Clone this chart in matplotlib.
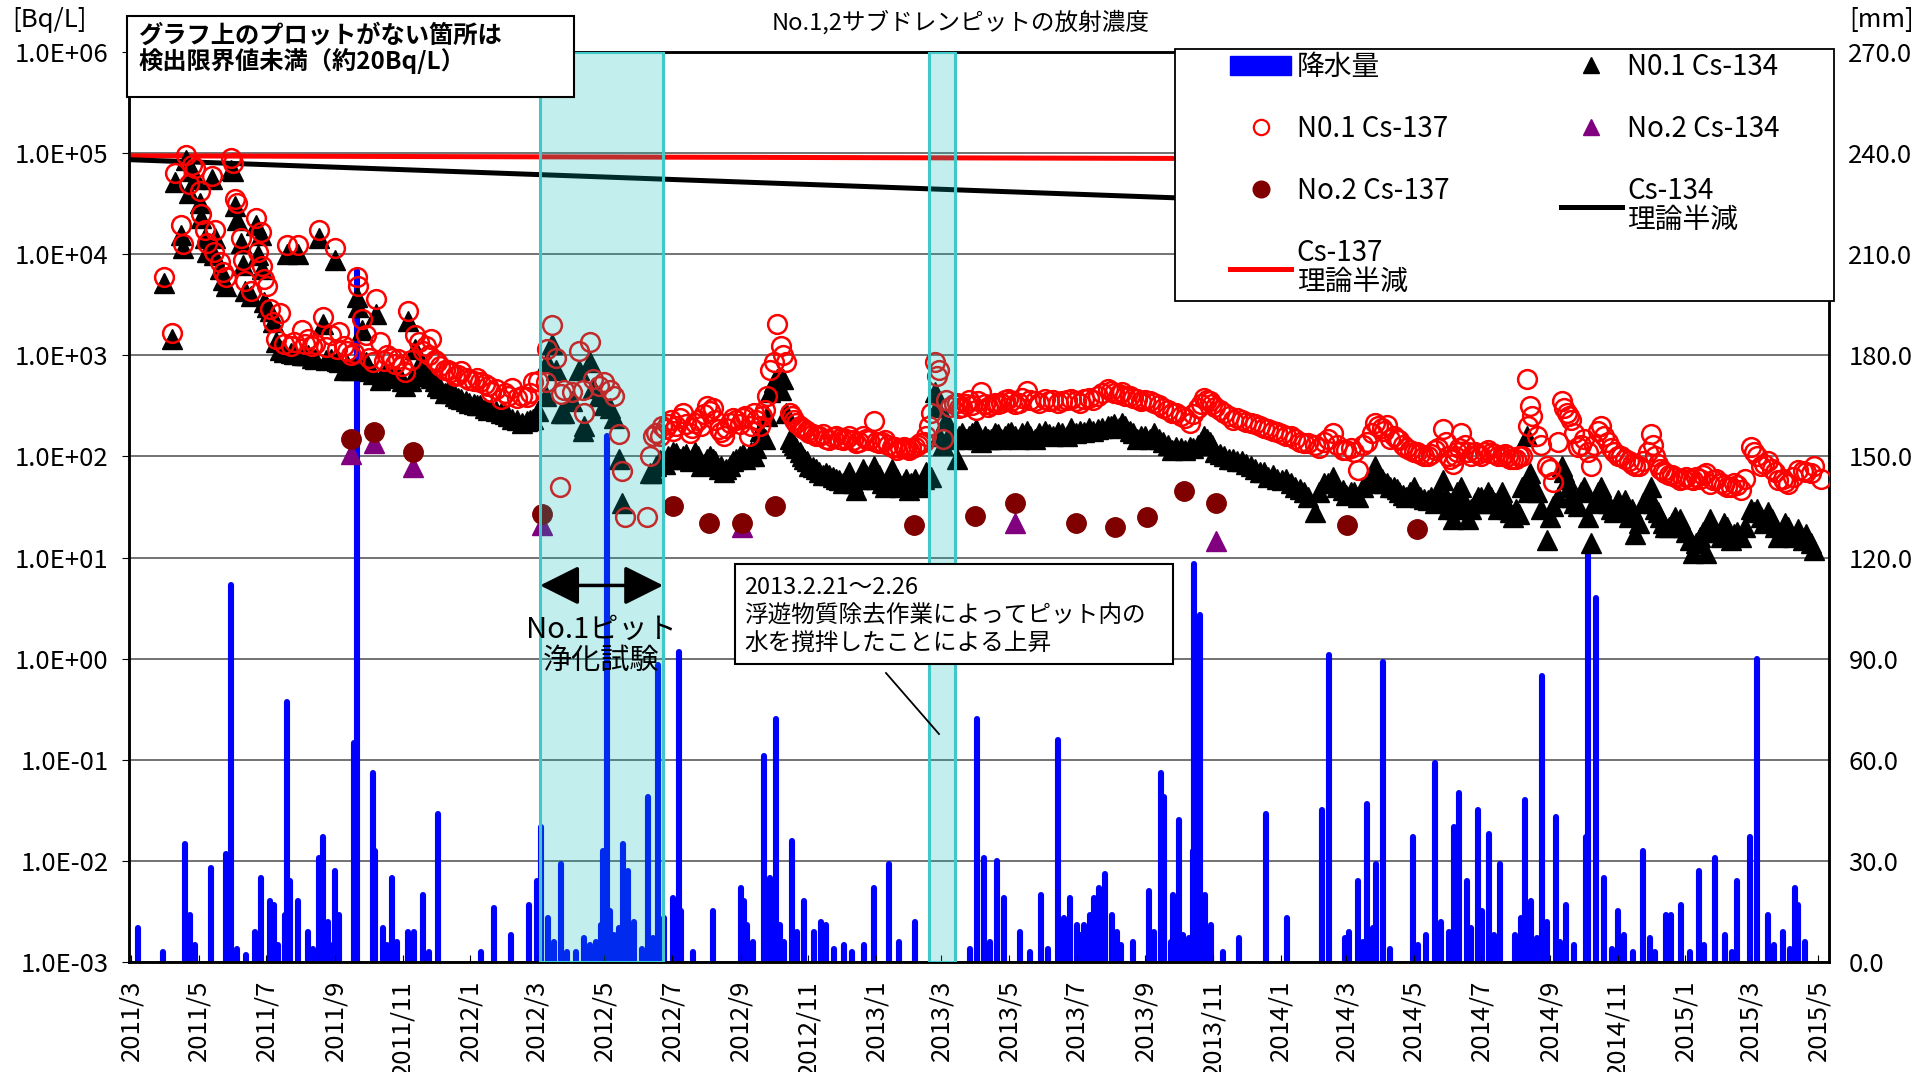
import numpy as np
import pandas as pd
import matplotlib
matplotlib.use('Agg')
import matplotlib.pyplot as plt
import matplotlib.dates as mdates
from matplotlib.patches import Patch, Rectangle
from matplotlib.lines import Line2D
from matplotlib.ticker import FixedLocator, FuncFormatter, NullLocator

plt.rcParams['font.family'] = ['Noto Sans CJK JP', 'DejaVu Sans']

nan = np.nan

# ---- No.1 pit (Cs-134 / Cs-137, Bq/L) ----
n1_date = [
    '2011-03-31', '2011-04-07', '2011-04-10', '2011-04-15', '2011-04-17', '2011-04-20', '2011-04-22', '2011-04-25', '2011-04-28', '2011-05-02',
    '2011-05-03', '2011-05-07', '2011-05-09', '2011-05-13', '2011-05-15', '2011-05-16', '2011-05-20', '2011-05-23', '2011-05-26', '2011-05-30',
    '2011-06-01', '2011-06-03', '2011-06-05', '2011-06-08', '2011-06-10', '2011-06-12', '2011-06-17', '2011-06-22', '2011-06-24', '2011-06-26',
    '2011-06-27', '2011-06-29', '2011-07-02', '2011-07-04', '2011-07-07', '2011-07-10', '2011-07-13', '2011-07-17', '2011-07-20', '2011-07-23',
    '2011-07-26', '2011-07-30', '2011-08-02', '2011-08-05', '2011-08-08', '2011-08-11', '2011-08-14', '2011-08-18', '2011-08-21', '2011-08-24',
    '2011-08-28', '2011-09-01', '2011-09-03', '2011-09-05', '2011-09-09', '2011-09-12', '2011-09-15', '2011-09-18', '2011-09-21', '2011-09-22',
    '2011-09-25', '2011-09-29', '2011-10-02', '2011-10-05', '2011-10-08', '2011-10-12', '2011-10-15', '2011-10-18', '2011-10-22', '2011-10-25',
    '2011-10-28', '2011-10-31', '2011-11-03', '2011-11-06', '2011-11-09', '2011-11-12', '2011-11-16', '2011-11-19', '2011-11-22', '2011-11-25',
    '2011-11-27', '2011-11-30', '2011-12-02', '2011-12-05', '2011-12-09', '2011-12-12', '2011-12-15', '2011-12-18', '2011-12-21', '2011-12-24',
    '2011-12-28', '2011-12-31', '2012-01-04', '2012-01-07', '2012-01-10', '2012-01-14', '2012-01-17', '2012-01-20', '2012-01-24', '2012-01-29',
    '2012-02-01', '2012-02-04', '2012-02-08', '2012-02-12', '2012-02-17', '2012-02-21', '2012-02-24', '2012-02-27', '2012-03-02', '2012-03-09',
    '2012-03-10', '2012-03-15', '2012-03-18', '2012-03-22', '2012-03-23', '2012-03-26', '2012-04-02', '2012-04-08', '2012-04-12', '2012-04-13',
    '2012-04-18', '2012-04-21', '2012-04-26', '2012-05-01', '2012-05-06', '2012-05-10', '2012-05-14', '2012-05-17', '2012-05-20', '2012-06-08',
    '2012-06-11', '2012-06-14', '2012-06-20', '2012-06-25', '2012-06-30', '2012-07-05', '2012-07-11', '2012-07-17', '2012-07-22', '2012-07-27',
    '2012-08-02', '2012-08-07', '2012-08-12', '2012-08-17', '2012-08-22', '2012-08-28', '2012-09-03', '2012-09-08', '2012-09-13', '2012-09-18',
    '2012-09-23', '2012-09-27', '2012-10-01', '2012-10-04', '2012-10-07', '2012-10-09', '2012-10-12', '2012-10-15', '2012-10-19', '2012-10-24',
    '2012-10-28', '2012-11-02', '2012-11-08', '2012-11-14', '2012-11-20', '2012-11-26', '2012-12-02', '2012-12-08', '2012-12-14', '2012-12-20',
    '2012-12-26', '2012-12-30', '2013-01-04', '2013-01-09', '2013-01-15', '2013-01-20', '2013-01-26', '2013-01-31', '2013-02-05', '2013-02-10',
    '2013-02-15', '2013-02-20', '2013-02-23', '2013-02-25', '2013-02-27', '2013-03-02', '2013-03-05', '2013-03-09', '2013-03-15', '2013-03-20',
    '2013-03-26', '2013-04-01', '2013-04-06', '2013-04-12', '2013-04-18', '2013-04-24', '2013-04-30', '2013-05-06', '2013-05-17', '2013-05-24',
    '2013-06-02', '2013-06-10', '2013-06-18', '2013-06-26', '2013-07-04', '2013-07-12', '2013-07-20', '2013-07-29', '2013-08-04', '2013-08-11',
    '2013-08-18', '2013-08-24', '2013-09-01', '2013-09-09', '2013-09-17', '2013-09-25', '2013-10-03', '2013-10-11', '2013-10-18', '2013-10-24',
    '2013-10-29', '2013-11-03', '2013-11-11', '2013-11-19', '2013-11-27', '2013-12-05', '2013-12-13', '2013-12-21', '2013-12-29', '2014-01-06',
    '2014-01-14', '2014-01-22', '2014-02-01', '2014-02-09', '2014-02-17', '2014-02-26', '2014-03-05', '2014-03-12', '2014-03-20', '2014-03-27',
    '2014-04-02', '2014-04-07', '2014-04-13', '2014-04-18', '2014-04-24', '2014-05-01', '2014-05-07', '2014-05-14', '2014-05-20', '2014-05-27',
    '2014-06-01', '2014-06-05', '2014-06-09', '2014-06-13', '2014-06-19', '2014-06-25', '2014-07-01', '2014-07-07', '2014-07-13', '2014-07-20',
    '2014-07-25', '2014-07-30', '2014-08-04', '2014-08-11', '2014-08-12', '2014-08-14', '2014-08-20', '2014-08-29', '2014-09-04', '2014-09-12',
    '2014-09-16', '2014-09-20', '2014-09-26', '2014-10-02', '2014-10-08', '2014-10-17', '2014-10-20', '2014-10-26', '2014-11-01', '2014-11-08',
    '2014-11-17', '2014-11-24', '2014-12-01', '2014-12-05', '2014-12-09', '2014-12-14', '2014-12-20', '2014-12-27', '2015-01-02', '2015-01-08',
    '2015-01-14', '2015-01-20', '2015-01-23', '2015-01-29', '2015-02-08', '2015-02-14', '2015-02-20', '2015-03-01', '2015-03-04', '2015-03-10',
    '2015-03-17', '2015-03-26', '2015-04-04', '2015-04-13', '2015-04-20', '2015-04-27', '2015-05-03',
    # in-between samples
    '2012-06-17', '2012-06-22', '2012-06-27', '2012-07-02', '2012-07-08', '2012-07-14', '2012-07-19', '2012-07-24', '2012-07-30', '2012-08-04',
    '2012-08-09', '2012-08-14', '2012-08-19', '2012-08-25', '2012-08-31', '2012-09-05', '2012-09-10', '2012-09-15', '2012-09-20', '2012-09-25',
    '2012-10-17', '2012-10-21', '2012-10-26', '2012-10-31', '2012-11-05', '2012-11-11', '2012-11-17', '2012-11-23', '2012-11-29', '2012-12-05',
    '2012-12-11', '2012-12-17', '2012-12-23', '2013-01-01', '2013-01-06', '2013-01-12', '2013-01-18', '2013-01-23', '2013-01-28', '2013-02-02',
    '2013-02-08', '2013-02-13', '2013-02-18', '2013-03-12', '2013-03-17', '2013-03-23', '2013-03-29', '2013-04-03', '2013-04-09', '2013-04-15',
    '2013-04-21', '2013-04-27', '2013-05-03', '2013-05-10', '2013-05-13', '2013-05-20', '2013-05-28', '2013-06-06', '2013-06-14', '2013-06-22',
    '2013-06-30', '2013-07-08', '2013-07-16', '2013-07-24', '2013-08-01', '2013-08-08', '2013-08-14', '2013-08-21', '2013-08-28', '2013-09-05',
    '2013-09-13', '2013-09-21', '2013-09-29', '2013-10-07', '2013-10-14', '2013-10-21', '2013-10-27', '2013-10-31', '2013-11-07', '2013-11-15',
    '2013-11-23', '2013-12-01', '2013-12-09', '2013-12-17', '2013-12-25', '2014-01-02', '2014-01-10', '2014-01-18', '2014-01-26', '2014-02-05',
    '2014-02-13', '2014-02-21', '2014-03-01', '2014-03-08', '2014-03-16', '2014-03-24', '2014-03-30', '2014-04-04', '2014-04-10', '2014-04-16',
    '2014-04-21', '2014-04-28', '2014-05-04', '2014-05-10', '2014-05-17', '2014-05-23', '2014-05-30', '2014-06-03', '2014-06-07', '2014-06-11',
    '2014-06-16', '2014-06-22', '2014-06-28', '2014-07-04', '2014-07-10', '2014-07-16', '2014-07-22', '2014-07-27', '2014-08-01', '2014-08-07',
    '2014-08-16', '2014-08-24', '2014-09-01', '2014-09-08', '2014-09-14', '2014-09-18', '2014-09-23', '2014-09-29', '2014-10-05', '2014-10-11',
    '2014-10-14', '2014-10-23', '2014-10-29', '2014-11-04', '2014-11-11', '2014-11-14', '2014-11-20', '2014-11-28', '2014-12-03', '2014-12-07',
    '2014-12-12', '2014-12-17', '2014-12-23', '2014-12-30', '2015-01-05', '2015-01-11', '2015-01-17', '2015-01-26', '2015-02-02', '2015-02-05',
    '2015-02-11', '2015-02-17', '2015-02-24', '2015-03-07', '2015-03-13', '2015-03-20', '2015-03-23', '2015-03-30', '2015-04-01', '2015-04-08',
    '2015-04-17', '2015-04-24',
]
n1_cs134 = [
    5200, 1450, 52000, 15500, 11500, 85000, 40000, 66000, 56000, 32000,
    23000, 14500, 10500, 56000, 9800, 14500, 7200, 5500, 4900, 68000,
    66000, 30000, 22000, 13000, 7800, 4300, 3900, 19500, 9800, 15500,
    7200, 3400, 3000, 2750, 2150, 1350, 1120, 1070, 10000, 1050,
    1030, 10000, 1000, 1000, 1000, 950, 930, 14500, 2050, 900,
    910, 8700, 880, 850, 720, 800, 720, 760, 3800, 3000,
    1800, 850, 700, 650, 2570, 575, 640, 630, 620, 600,
    630, 560, 500, 2200, 560, 1150, 800, 700, 630, 640,
    600, 560, 500, 480, 420, 440, 420, 400, 380, 370,
    350, 340, 330, 320, 320, 300, 290, 295, 280, 270,
    260, 250, 235, 230, 215, 225, 230, 235, 280, 400,
    850, 1300, 720, nan, 270, 270, 350, 720, 180, 200,
    850, 480, 400, 320, 300, 240, 95, 35, nan, nan,
    68, 69, 93, 85, 95, 107, 100, 90, 110, 80,
    95, 95, 75, 70, 80, 95, 105, 100, 100, 180,
    150, 430, 540, 580, 450, 580, 270, 150, 130, 110,
    95, 80, 75, 65, 65, 60, 55, 70, 47, 75,
    60, 80, 65, 50, 75, 60, 55, 47, 60, 50,
    70, 63, 430, 310, 160, 130, 230, 170, 95, 170,
    160, 185, 140, 150, 170, 150, 170, 160, 180, 150,
    180, 160, 170, 190, 180, 190, 185, 200, 210, 215,
    180, 150, 160, 170, 140, 115, 120, 125, 130, 160,
    140, 110, 100, 95, 90, 80, 70, 63, 60, 60,
    50, 45, 28, 55, 63, 47, 45, 40, 55, 80,
    60, 55, 50, 45, 40, 50, 40, 37, 35, 58,
    30, 24, 45, 50, 24, 35, 40, 45, 35, 45,
    30, 25, 27, 160, 44, 68, 44, 15, 32, 80,
    60, 40, 32, 50, 14, 50, 40, 30, 37, 37,
    17, 35, 50, 30, 25, 20, 22, 24, 18, 11,
    16, 11, 24, 18, 20, 17, 16, 30, 28, 25,
    28, 16, 20, 19, 17, 12, nan,
    80, 90, 100, 110, 95, 105, 95, 100, 85, 100,
    90, 80, 75, 90, 100, 95, 110, 120, 160, 250,
    140, 120, 100, 90, 78, 70, 68, 62, 58, 60,
    55, 60, 65, 60, 55, 60, 55, 50, 60, 55,
    52, 60, 65, 150, 160, 150, 170, 150, 160, 150,
    165, 160, 175, 150, 170, 160, 170, 165, 175, 160,
    170, 175, 180, 190, 200, 190, 200, 170, 160, 150,
    150, 130, 125, 115, 120, 140, 150, 130, 105, 95,
    90, 85, 75, 70, 65, 58, 55, 48, 40, 45,
    55, 50, 42, 45, 50, 60, 65, 55, 50, 48,
    42, 45, 42, 38, 40, 45, 40, 35, 30, 40,
    35, 30, 40, 35, 40, 30, 35, 28, 30, 50,
    55, 30, 25, 40, 70, 50, 35, 45, 25, 35,
    45, 35, 28, 30, 25, 30, 22, 40, 35, 28,
    22, 20, 25, 20, 15, 14, 18, 20, 16, 22,
    15, 18, 20, 30, 22, 24, 20, 18, 22, 16,
    15, 14,
]
n1_cs137 = [
    6000, 1650, 63000, 19500, 12500, 96000, 50000, 76000, 71000, 42000,
    25000, 17500, 13000, 59000, 10500, 17400, 8300, 6600, 5900, 89000,
    80000, 35000, 32000, 14500, 8700, 5400, 4300, 23000, 10500, 16500,
    7600, 5700, 4900, 2900, 2150, 1450, 2600, 1300, 12300, 1250,
    1350, 12300, 1800, 1300, 1450, 1250, 1300, 17400, 2400, 1200,
    1600, 11500, 1150, 1700, 1250, 1100, 1000, 1050, 5900, 4900,
    2300, 1600, 950, 850, 3600, 1350, 880, 1000, 950, 820,
    910, 780, 680, 2750, 900, 1600, 1350, 1100, 1250, 1000,
    1450, 900, 850, 780, 720, 720, 680, 630, 640, 700,
    600, 575, 560, 600, 540, 520, 500, 430, 460, 370,
    420, 400, 470, 380, 400, 390, 420, 540, 560, 540,
    1150, 2000, 950, 50, 410, 450, 430, 1100, 450, 270,
    1350, 580, 500, 540, 450, 400, 165, 71, 25, 25,
    100, 160, 160, 185, 230, 200, 270, 170, 215, 200,
    315, 300, 185, 160, 215, 230, 240, 160, 270, 200,
    290, 720, 850, 2050, 1230, 1000, 850, 270, 230, 200,
    185, 170, 160, 165, 145, 160, 145, 160, 135, 160,
    145, 225, 135, 145, 125, 117, 125, 117, 125, 135,
    160, 270, 850, 620, 720, 150, 360, 310, 340, 310,
    360, 290, 430, 310, 340, 340, 370, 330, 445, 350,
    370, 360, 350, 370, 340, 380, 400, 460, 420, 430,
    400, 370, 360, 340, 300, 270, 250, 215, 300, 380,
    350, 310, 270, 230, 230, 215, 200, 185, 175, 160,
    150, 135, 130, 140, 170, 115, 120, 74, 140, 215,
    190, 205, 160, 145, 120, 110, 105, 100, 115, 185,
    100, 85, 110, 170, 110, 110, 100, 115, 105, 100,
    100, 95, 100, 590, 200, 315, 160, 80, 56, 355,
    270, 230, 125, 150, 80, 200, 160, 120, 100, 95,
    80, 90, 165, 100, 75, 68, 65, 58, 62, 58,
    60, 68, 54, 60, 50, 55, 47, 125, 110, 80,
    90, 58, 54, 74, 70, 80, 60,
    170, 200, 210, 180, 240, 210, 190, 230, 260, 280,
    230, 175, 190, 240, 210, 250, 200, 230, 250, 400,
    250, 215, 190, 180, 165, 160, 150, 155, 150, 150,
    145, 140, 150, 140, 140, 130, 125, 120, 120, 120,
    130, 140, 200, 330, 300, 330, 320, 350, 330, 320,
    330, 360, 350, 340, 380, 360, 340, 350, 340, 360,
    350, 370, 360, 420, 440, 410, 400, 380, 350, 350,
    320, 290, 270, 240, 260, 330, 360, 330, 290, 250,
    240, 220, 210, 190, 180, 165, 160, 140, 135, 120,
    150, 130, 115, 110, 130, 170, 200, 180, 150, 150,
    130, 115, 110, 100, 105, 120, 140, 95, 100, 120,
    130, 100, 105, 110, 108, 100, 105, 95, 95, 100,
    250, 130, 75, 140, 300, 250, 170, 130, 110, 130,
    180, 140, 110, 100, 90, 85, 80, 110, 130, 85,
    72, 66, 62, 60, 60, 62, 65, 58, 55, 52,
    50, 52, 60, 100, 85, 75, 70, 60, 56, 62,
    72, 68,
]

# ---- No.2 pit ----
n2_cs137_date = ['2011-09-15', '2011-10-06', '2011-11-10', '2012-03-06', '2012-07-02', '2012-08-03',
                 '2012-09-02', '2012-10-02', '2013-02-04', '2013-03-31', '2013-05-06', '2013-06-30',
                 '2013-08-05', '2013-09-02', '2013-10-06', '2013-11-04', '2014-03-02', '2014-05-04']
n2_cs137 = [150, 175, 110, 27, 32, 22, 22, 32, 21, 26, 35, 22, 20, 25, 46, 35, 21, 19]
n2_cs134_date = ['2011-09-15', '2011-10-06', '2011-11-10', '2012-03-06', '2012-09-02', '2013-05-06', '2013-11-04']
n2_cs134 = [105, 137, 78, 21, 20, 22, 14.5]

# ---- theoretical decay (straight lines on log axis) ----
half_date = ['2011-03-01', '2015-05-10']
cs134_half = [86000, 21000]
cs137_half = [94000, 85400]

# ---- rainfall (mm/day) ----
rain_date = [
    '2011-03-07', '2011-03-30', '2011-04-19', '2011-04-23', '2011-04-28', '2011-05-12', '2011-05-26', '2011-05-30', '2011-06-13', '2011-06-21',
    '2011-06-26', '2011-07-04', '2011-07-08', '2011-07-18', '2011-07-20', '2011-07-22', '2011-07-30', '2011-08-08', '2011-08-18', '2011-08-21',
    '2011-08-26', '2011-09-01', '2011-09-05', '2011-09-18', '2011-09-21', '2011-10-05', '2011-10-07', '2011-10-14', '2011-10-22', '2011-11-06',
    '2011-11-11', '2011-11-19', '2011-12-03', '2012-01-11', '2012-01-22', '2012-02-07', '2012-02-23', '2012-03-01', '2012-03-05', '2012-03-11',
    '2012-03-17', '2012-03-23', '2012-04-13', '2012-04-23', '2012-04-28', '2012-04-30', '2012-05-03', '2012-05-06', '2012-05-18', '2012-05-22',
    '2012-05-28', '2012-06-09', '2012-06-14', '2012-06-18', '2012-06-24', '2012-07-02', '2012-07-07', '2012-07-09', '2012-08-07', '2012-09-01',
    '2012-09-04', '2012-09-07', '2012-09-22', '2012-09-27', '2012-10-03', '2012-10-06', '2012-10-17', '2012-10-22', '2012-10-28', '2012-11-06',
    '2012-11-12', '2012-11-17', '2012-12-03', '2012-12-21', '2012-12-30', '2013-01-13', '2013-01-22', '2013-02-05', '2013-03-27', '2013-04-02',
    '2013-04-08', '2013-04-20', '2013-04-26', '2013-05-11', '2013-05-30', '2013-06-14', '2013-06-20', '2013-06-25', '2013-07-01', '2013-07-08',
    '2013-07-13', '2013-07-17', '2013-07-21', '2013-07-27', '2013-08-02', '2013-08-06', '2013-08-21', '2013-09-04', '2013-09-09', '2013-09-15',
    '2013-09-18', '2013-09-26', '2013-10-01', '2013-10-05', '2013-10-14', '2013-10-15', '2013-10-20', '2013-10-25', '2013-10-30', '2013-11-24',
    '2013-12-19', '2014-01-07', '2014-02-07', '2014-02-14', '2014-02-28', '2014-03-04', '2014-03-12', '2014-03-20', '2014-03-25', '2014-03-28',
    '2014-04-03', '2014-04-30', '2014-05-12', '2014-05-20', '2014-05-26', '2014-06-06', '2014-06-11', '2014-06-18', '2014-06-28', '2014-07-02',
    '2014-07-08', '2014-07-18', '2014-07-31', '2014-08-06', '2014-08-09', '2014-08-15', '2014-08-25', '2014-08-29', '2014-09-06', '2014-09-15',
    '2014-09-23', '2014-10-03', '2014-10-05', '2014-10-12', '2014-10-20', '2014-11-01', '2014-11-07', '2014-11-24', '2014-11-30', '2014-12-15',
    '2014-12-19', '2014-12-28', '2015-01-13', '2015-01-18', '2015-01-28', '2015-02-06', '2015-02-17', '2015-02-28', '2015-03-07', '2015-03-17',
    '2015-03-30', '2015-04-10', '2015-04-13', '2015-04-19',
    '2011-06-05', '2011-07-12', '2011-08-12', '2011-08-30', '2011-10-18', '2011-10-27', '2011-11-25', '2012-03-28', '2012-04-05', '2012-04-18',
    '2012-05-10', '2012-05-14', '2012-05-25', '2012-06-04', '2012-06-20', '2012-07-20', '2012-09-12', '2012-10-10', '2012-11-24', '2012-12-10',
    '2013-04-14', '2013-05-20', '2013-06-05', '2013-07-05', '2013-07-25', '2013-08-10', '2013-09-24', '2013-10-10', '2013-11-10', '2014-03-16',
    '2014-04-10', '2014-05-05', '2014-06-02', '2014-06-22', '2014-07-12', '2014-08-02', '2014-08-20', '2014-09-10', '2014-10-27', '2014-11-15',
    '2014-12-05', '2015-01-05', '2015-02-12', '2015-03-22', '2015-04-05',
]
rain_mm = [
    10, 3, 35, 14, 5, 28, 32, 112, 2, 9,
    25, 18, 17, 14, 77, 24, 18, 9, 31, 37,
    12, 27, 14, 65, 205, 56, 33, 10, 25, 9,
    9, 20, 44, 3, 16, 8, 17, 24, 40, 13,
    6, 29, 7, 6, 11, 33, 156, 15, 35, 27,
    12, 49, 7, 88, 13, 19, 92, 15, 15, 22,
    18, 11, 61, 25, 72, 11, 36, 9, 18, 9,
    12, 11, 5, 5, 22, 29, 6, 12, 4, 72,
    31, 30, 19, 9, 20, 66, 13, 19, 11, 11,
    14, 19, 22, 26, 14, 9, 6, 21, 9, 56,
    49, 20, 42, 8, 33, 118, 103, 20, 11, 7,
    44, 13, 45, 91, 7, 9, 24, 47, 10, 29,
    89, 37, 8, 59, 12, 40, 50, 24, 45, 15,
    38, 29, 8, 13, 48, 18, 85, 12, 43, 17,
    5, 37, 123, 108, 25, 15, 8, 33, 7, 14,
    14, 17, 27, 5, 31, 8, 24, 37, 90, 14,
    9, 22, 17, 6,
    4, 5, 4, 5, 5, 6, 3, 3, 3, 5,
    8, 10, 6, 4, 4, 3, 6, 6, 4, 3,
    6, 3, 4, 8, 9, 5, 6, 7, 3, 6,
    4, 5, 9, 10, 8, 6, 7, 6, 4, 3,
    3, 3, 3, 5, 4,
]

# shaded periods
span_start = ['2012-03-04', '2013-02-18']
span_end = ['2012-06-23', '2013-03-13']

W, H = 1933, 1072


def fx(px):
    return px / W


def fy(py):
    return 1 - py / H


def dnum(d):
    return mdates.date2num(pd.to_datetime(d))


fig = plt.figure(figsize=(W / 100, H / 100), dpi=100)
ax = fig.add_axes([fx(129.5), fy(962), fx(1829) - fx(129.5), fy(52) - fy(962)])
ax2 = ax.twinx()
ax.set_zorder(2)
ax2.set_zorder(1)
ax.patch.set_visible(False)
ax2.patch.set_facecolor('white')

# rainfall bars on the right axis
ax2.vlines(dnum(rain_date), 0, rain_mm, colors='#0000ff', linewidth=4.4, capstyle='round', zorder=2)
ax2.set_ylim(0, 270)
ax2.yaxis.set_major_locator(FixedLocator(np.arange(0, 271, 30)))
ax2.yaxis.set_major_formatter(FuncFormatter(lambda v, p: f'{v:.1f}'))
ax2.yaxis.grid(True, color='#5a5a5a', linewidth=1.2, zorder=1)
ax2.set_axisbelow(True)
ax2.tick_params(axis='y', length=0, pad=14, labelsize=18.5)

# concentrations on the left (log) axis
ax.plot(dnum(half_date), cs137_half, color='#ff0000', lw=3.6, zorder=2)
ax.plot(dnum(half_date), cs134_half, color='black', lw=3.6, zorder=2)
ax.plot(dnum(n1_date), n1_cs134, ls='none', marker='^', color='black', ms=14, zorder=3)
ax.plot(dnum(n2_cs134_date), n2_cs134, ls='none', marker='^', color='#800080', ms=14, zorder=3)
ax.plot(dnum(n1_date), n1_cs137, ls='none', marker='o', mfc='none', mec='#ff0000', mew=1.8, ms=13.5, zorder=3.1)
ax.plot(dnum(n2_cs137_date), n2_cs137, ls='none', marker='o', color='#800000', ms=14, zorder=3.1)

ax.set_yscale('log')
ax.set_ylim(1e-3, 1e6)
ax.yaxis.set_major_locator(FixedLocator(10.0 ** np.arange(-3, 7)))
ax.yaxis.set_minor_locator(NullLocator())
ax.yaxis.set_major_formatter(FuncFormatter(lambda v, p: f'{v:.1E}'))
ax.tick_params(axis='y', direction='out', length=5, pad=10, labelsize=18.5)

x0 = dnum('2011-03-01')
ax.set_xlim(x0 - 1.35, x0 + 1531.6)
ax.xaxis.set_major_locator(mdates.MonthLocator(bymonth=(1, 3, 5, 7, 9, 11)))
ax.xaxis.set_major_formatter(FuncFormatter(
    lambda v, p: f'{mdates.num2date(v).year}/{mdates.num2date(v).month}'))
ax.tick_params(axis='x', direction='in', length=5, pad=13, labelsize=18.5, labelrotation=90)

for a in (ax, ax2):
    for s in a.spines.values():
        s.set_color('black')
        s.set_linewidth(1.8)

# shaded work periods (semi-transparent, on top of data)
for s, e in zip(span_start, span_end):
    ax.axvspan(dnum(s), dnum(e), facecolor=(0, 0.72, 0.72), alpha=0.24, edgecolor='none', zorder=4)
    ax.axvspan(dnum(s), dnum(e), fill=False, edgecolor='#40c8c8', linewidth=2.2, zorder=4.1)

# purification test arrow + label
ax.annotate('', xy=(dnum(span_end[0]), 5.3), xytext=(dnum(span_start[0]), 5.3),
            arrowprops=dict(arrowstyle='<|-|>,head_length=1.0,head_width=0.5', color='black',
                            lw=2.5, mutation_scale=24, shrinkA=0, shrinkB=0), zorder=6)
ax.text(dnum('2012-04-28'), 1.35, 'No.1ピット\n浄化試験', ha='center', va='center',
        fontsize=21, linespacing=1.05, zorder=6)

# text boxes and titles in figure pixels
ax.add_patch(Rectangle((fx(127), fy(97)), fx(574) - fx(127), fy(16) - fy(97), transform=fig.transFigure,
                       facecolor='white', edgecolor='black', lw=1.5, clip_on=False, zorder=7))
ax.text(fx(138), fy(36), 'グラフ上のプロットがない箇所は', transform=fig.transFigure, fontsize=17.5,
        fontweight='bold', va='center', ha='left', zorder=8)
ax.text(fx(138), fy(61), '検出限界値未満（約20Bq/L）', transform=fig.transFigure, fontsize=17.5,
        fontweight='bold', va='center', ha='left', zorder=8)

ax.add_patch(Rectangle((fx(735), fy(664)), fx(1173) - fx(735), fy(564) - fy(664), transform=fig.transFigure,
                       facecolor='white', edgecolor='black', lw=1.5, clip_on=False, zorder=7))
note = ['2013.2.21～2.26', '浮遊物質除去作業によってピット内の', '水を撹拌したことによる上昇']
for i, t in enumerate(note):
    ax.text(fx(744), fy(588 + 28 * i), t, transform=fig.transFigure, fontsize=17,
            va='center', ha='left', zorder=8)
ax.add_line(Line2D([fx(886), fx(939)], [fy(673), fy(734)], transform=fig.transFigure,
                   color='black', lw=1.3, clip_on=False, zorder=7))

fig.text(fx(961), fy(22), 'No.1,2サブドレンピットの放射濃度', ha='center', va='center', fontsize=17)
fig.text(fx(12), fy(20), '[Bq/L]', ha='left', va='center', fontsize=18.5)
fig.text(fx(1849), fy(20), '[mm]', ha='left', va='center', fontsize=18.5)

# legend: white frame + frameless legend inside
ax.add_patch(Rectangle((fx(1175), fy(301)), fx(1834) - fx(1175), fy(49) - fy(301), transform=fig.transFigure,
                       facecolor='white', edgecolor='black', lw=1.3, clip_on=False, zorder=7))
handles = [
    Patch(facecolor='#0000ff', edgecolor='#0000ff'),
    Line2D([], [], ls='none', marker='o', mfc='none', mec='#ff0000', mew=1.6, ms=11),
    Line2D([], [], ls='none', marker='o', color='#800000', ms=12),
    Line2D([], [], color='#ff0000', lw=3.6),
    Line2D([], [], ls='none', marker='^', color='black', ms=12),
    Line2D([], [], ls='none', marker='^', color='#800080', ms=12),
    Line2D([], [], color='black', lw=3.6),
]
labels = ['降水量', 'N0.1 Cs-137', 'No.2 Cs-137', 'Cs-137\n理論半減',
          'N0.1 Cs-134', 'No.2 Cs-134', 'Cs-134\n理論半減']
leg = ax.legend(handles, labels, ncol=2, loc='upper left', mode='expand',
                bbox_to_anchor=(fx(1230), fy(52), fx(1780) - fx(1230), 0), bbox_transform=fig.transFigure,
                frameon=False, fontsize=20, handlelength=2.2, handletextpad=0.2,
                labelspacing=1.15, borderpad=0, borderaxespad=0)
for t in leg.get_texts():
    t.set_linespacing(0.95)
leg.set_zorder(9)

fig.savefig('out.png', dpi=100)
